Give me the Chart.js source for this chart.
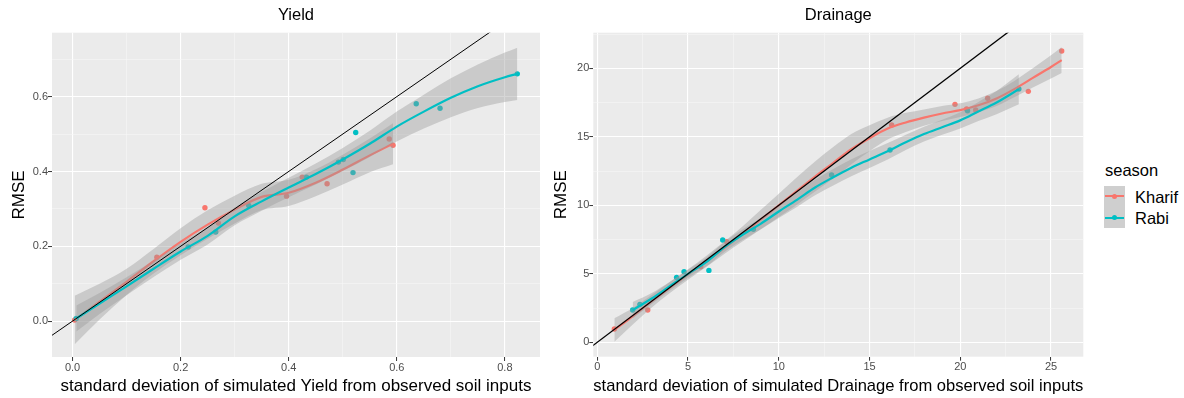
<!DOCTYPE html>
<html><head><meta charset="utf-8">
<script src="https://cdn.jsdelivr.net/npm/chart.js@4.4.1/dist/chart.umd.min.js"></script>
<style>
html,body{margin:0;padding:0;background:#fff;width:1184px;height:398px;overflow:hidden;font-family:'Liberation Sans',Arial,sans-serif;}
canvas{position:absolute;top:0;}
#c1{left:0px} #c2{left:545px}
.lg{position:absolute;color:#000;font-size:16.5px;line-height:20px;white-space:nowrap}
.key{position:absolute;left:1104px;width:21px;height:21.3px;background:#cfcfcf}
.key .ln{position:absolute;left:1px;right:1px;top:9.6px;height:2.1px}
.key .pt{position:absolute;left:8px;top:8px;width:5.2px;height:5.2px;border-radius:50%}
</style></head>
<body>
<canvas id="c1" width="545" height="398"></canvas>
<canvas id="c2" width="545" height="398"></canvas>
<div class="lg" style="left:1105px;top:160px">season</div>
<div class="key" style="top:185.7px"><div class="ln" style="background:#F8766D"></div><div class="pt" style="background:#F8766D"></div></div>
<div class="key" style="top:207px"><div class="ln" style="background:#00BFC4"></div><div class="pt" style="background:#00BFC4"></div></div>
<div class="lg" style="left:1135px;top:186.7px">Kharif</div>
<div class="lg" style="left:1135px;top:208.3px">Rabi</div>
<script>
// ---------- Yield panel data ----------
const yieldKharifX = [0.004, 0.156, 0.245, 0.270, 0.396, 0.425, 0.471, 0.586, 0.593];
const yieldKharifY = [0.003, 0.171, 0.303, 0.262, 0.334, 0.385, 0.367, 0.487, 0.470];
const yieldRabiX = [0.007, 0.214, 0.265, 0.326, 0.433, 0.492, 0.501, 0.519, 0.524, 0.636, 0.680, 0.823];
const yieldRabiY = [0.007, 0.198, 0.238, 0.309, 0.385, 0.425, 0.432, 0.397, 0.504, 0.581, 0.569, 0.661];
// loess fits (x, fitted y, half width of the grey band)
const yieldKharifFitX = [0.004, 0.05, 0.10, 0.15, 0.20, 0.25, 0.30, 0.35, 0.40, 0.45, 0.50, 0.55, 0.593];
const yieldKharifFitY = [0.003, 0.052, 0.105, 0.160, 0.212, 0.258, 0.298, 0.332, 0.343, 0.370, 0.405, 0.443, 0.474];
const yieldKharifSE   = [0.065, 0.048, 0.035, 0.033, 0.036, 0.038, 0.037, 0.035, 0.035, 0.036, 0.040, 0.045, 0.055];
const yieldRabiFitX = [0.007, 0.05, 0.10, 0.15, 0.20, 0.25, 0.30, 0.35, 0.40, 0.45, 0.50, 0.55, 0.60, 0.65, 0.70, 0.75, 0.80, 0.823];
const yieldRabiFitY = [0.007, 0.047, 0.093, 0.140, 0.186, 0.228, 0.280, 0.320, 0.357, 0.393, 0.432, 0.474, 0.520, 0.560, 0.597, 0.628, 0.652, 0.661];
const yieldRabiSE   = [0.035, 0.028, 0.024, 0.022, 0.022, 0.023, 0.024, 0.025, 0.026, 0.028, 0.031, 0.035, 0.040, 0.045, 0.052, 0.058, 0.066, 0.070];
const yieldIdentity = [-1, 2];
const yieldXLimits = [-0.038, 0.865];
const yieldYLimits = [-0.096, 0.771];
const yieldXTicks = [0, 0.2, 0.4, 0.6, 0.8];
const yieldXLabels = ['0.0', '0.2', '0.4', '0.6', '0.8'];
const yieldXMinor = [0.1, 0.3, 0.5, 0.7];
const yieldYTicks = [0, 0.2, 0.4, 0.6];
const yieldYLabels = ['0.0', '0.2', '0.4', '0.6'];
const yieldYMinor = [0.1, 0.3, 0.5, 0.7];

// ---------- Drainage panel data ----------
const drainKharifX = [0.94, 2.78, 5.70, 7.13, 16.22, 19.71, 20.35, 20.85, 21.51, 23.75, 25.59];
const drainKharifY = [0.97, 2.36, 5.52, 7.34, 15.86, 17.37, 17.03, 16.96, 17.81, 18.32, 21.26];
const drainRabiX = [1.95, 2.35, 4.37, 4.78, 6.15, 6.91, 8.60, 12.91, 16.13, 20.40, 23.23];
const drainRabiY = [2.36, 2.77, 4.74, 5.15, 5.25, 7.47, 8.25, 12.21, 14.04, 16.90, 18.49];
const drainKharifFitX = [0.94, 2, 3, 4, 5, 6, 7, 8, 9, 10, 11, 12, 13, 14, 15, 16, 17, 18, 19, 20, 21, 22, 23, 24, 25, 25.59];
const drainKharifFitY = [0.90, 1.95, 3.00, 4.00, 4.95, 5.90, 6.90, 7.90, 8.95, 10.0, 11.05, 12.10, 13.10, 14.10, 14.90, 15.60, 16.05, 16.40, 16.70, 16.95, 17.30, 17.80, 18.50, 19.30, 20.10, 20.60];
const drainKharifSE   = [0.85, 0.60, 0.45, 0.40, 0.38, 0.40, 0.45, 0.55, 0.70, 0.85, 1.00, 1.10, 1.15, 1.10, 0.95, 0.80, 0.70, 0.60, 0.55, 0.50, 0.50, 0.55, 0.60, 0.70, 0.85, 0.95];
const drainRabiFitX = [1.95, 3, 4, 5, 6, 7, 8, 9, 10, 11, 12, 13, 14, 15, 16, 17, 18, 19, 20, 21, 22, 23.23];
const drainRabiFitY = [2.35, 3.20, 4.10, 5.00, 5.85, 6.95, 7.85, 8.65, 9.55, 10.40, 11.30, 12.05, 12.75, 13.35, 13.95, 14.60, 15.20, 15.70, 16.20, 16.85, 17.50, 18.47];
const drainRabiSE   = [0.60, 0.40, 0.32, 0.30, 0.32, 0.35, 0.38, 0.42, 0.48, 0.52, 0.56, 0.60, 0.62, 0.62, 0.60, 0.56, 0.54, 0.55, 0.60, 0.70, 0.85, 1.10];
const drainIdentity = [-5, 40];
const drainXLimits = [-0.22, 26.78];
const drainYLimits = [-1.05, 22.6];
const drainXTicks = [0, 5, 10, 15, 20, 25];
const drainXLabels = ['0', '5', '10', '15', '20', '25'];
const drainXMinor = [2.5, 7.5, 12.5, 17.5, 22.5];
const drainYTicks = [0, 5, 10, 15, 20];
const drainYLabels = ['0', '5', '10', '15', '20'];
const drainYMinor = [2.5, 7.5, 12.5, 17.5, 22.5];

const KHARIF = '#F8766D', RABI = '#00BFC4', BAND = 'rgba(153,153,153,0.4)';
const FONT = 'Liberation Sans';

function pts(xs, ys) { return xs.map((x, i) => ({x: x, y: ys[i]})); }
function edge(xs, ys, se, s) { return xs.map((x, i) => ({x: x, y: ys[i] + s * se[i]})); }
function idLine(r) { return r.map(v => ({x: v, y: v})); }

const panelBg = {
  id: 'panelBg',
  beforeDraw(chart) {
    const a = chart.chartArea, ctx = chart.ctx;
    ctx.save();
    ctx.fillStyle = '#EBEBEB';
    ctx.fillRect(a.left, a.top, a.right - a.left, a.bottom - a.top);
    ctx.restore();
  }
};

function axis(lim, major, labels, minor, title, titlePad, fit) {
  const isMajor = v => major.some(m => Math.abs(m - v) < 1e-9);
  return {
    type: 'linear', min: lim[0], max: lim[1],
    afterBuildTicks: s => { s.ticks = major.concat(minor).sort((a, b) => a - b).map(v => ({value: v})); },
    afterFit: fit,
    ticks: {
      autoSkip: false, maxRotation: 0, minRotation: 0, padding: 0,
      color: '#4D4D4D', font: {family: FONT, size: 11},
      callback: v => { const i = major.findIndex(m => Math.abs(m - v) < 1e-9); return i >= 0 ? labels[i] : ''; }
    },
    grid: {
      color: c => (c.tick && isMajor(c.tick.value)) ? '#FFFFFF' : '#F7F7F7',
      lineWidth: c => (c.tick && isMajor(c.tick.value)) ? 1.1 : 0.6,
      tickColor: c => (c.tick && isMajor(c.tick.value)) ? '#333333' : 'rgba(0,0,0,0)',
      tickLength: 4, tickWidth: 1, drawTicks: true
    },
    border: {display: false},
    title: {display: true, text: title, color: '#000', font: {family: FONT, size: 17, lineHeight: 1.2}, padding: titlePad}
  };
}

function panel(id, o) {
  const lineOpts = {showLine: true, pointRadius: 0, borderWidth: 2.2, cubicInterpolationMode: 'monotone', fill: false};
  const edgeOpts = {showLine: true, pointRadius: 0, borderWidth: 0, borderColor: 'rgba(0,0,0,0)', cubicInterpolationMode: 'monotone'};
  return new Chart(document.getElementById(id), {
    type: 'scatter',
    data: {
      datasets: [
        {data: idLine(o.identity), showLine: true, pointRadius: 0, borderColor: '#000', borderWidth: o.idW, fill: false, clip: 0, order: 0},
        Object.assign({data: pts(o.rFitX, o.rFitY), borderColor: RABI, order: 1}, lineOpts),
        Object.assign({data: edge(o.rFitX, o.rFitY, o.rSE, 1), fill: false, order: 2}, edgeOpts),
        Object.assign({data: edge(o.rFitX, o.rFitY, o.rSE, -1), fill: '-1', backgroundColor: BAND, order: 2}, edgeOpts),
        Object.assign({data: pts(o.kFitX, o.kFitY), borderColor: KHARIF, order: 3}, lineOpts),
        Object.assign({data: edge(o.kFitX, o.kFitY, o.kSE, 1), fill: false, order: 4}, edgeOpts),
        Object.assign({data: edge(o.kFitX, o.kFitY, o.kSE, -1), fill: '-1', backgroundColor: BAND, order: 4}, edgeOpts),
        {data: pts(o.rX, o.rY), pointRadius: 2.7, pointBorderWidth: 0, pointBackgroundColor: RABI, backgroundColor: RABI, order: 5},
        {data: pts(o.kX, o.kY), pointRadius: 2.7, pointBorderWidth: 0, pointBackgroundColor: KHARIF, backgroundColor: KHARIF, order: 6}
      ]
    },
    options: {
      responsive: false, animation: false, devicePixelRatio: 1, events: [],
      layout: {padding: {left: 0, right: o.padRight, top: 0, bottom: 0}},
      plugins: {
        legend: {display: false}, tooltip: {enabled: false},
        title: {display: true, text: o.title, fullSize: false, color: '#000',
                font: {family: FONT, size: 16.5, weight: 'normal', lineHeight: 1.2}, padding: {top: 6, bottom: 6.9}}
      },
      scales: {
        x: axis(o.xLim, o.xTicks, o.xLabels, o.xMinor, o.xTitle, {top: 0, bottom: 1.1}, s => { s.height = o.xH; }),
        y: axis(o.yLim, o.yTicks, o.yLabels, o.yMinor, 'RMSE', {top: o.yTitlePad, bottom: 0}, s => { s.width = o.yW; })
      }
    },
    plugins: [panelBg]
  });
}

panel('c1', {
  title: 'Yield', identity: yieldIdentity, idW: 1,
  kX: yieldKharifX, kY: yieldKharifY, rX: yieldRabiX, rY: yieldRabiY,
  kFitX: yieldKharifFitX, kFitY: yieldKharifFitY, kSE: yieldKharifSE,
  rFitX: yieldRabiFitX, rFitY: yieldRabiFitY, rSE: yieldRabiSE,
  xLim: yieldXLimits, yLim: yieldYLimits,
  xTicks: yieldXTicks, xLabels: yieldXLabels, xMinor: yieldXMinor,
  yTicks: yieldYTicks, yLabels: yieldYLabels, yMinor: yieldYMinor,
  xTitle: 'standard deviation of simulated Yield from observed soil inputs',
  padRight: 5, xH: 41, yW: 52, yTitlePad: 9.4
});
panel('c2', {
  title: 'Drainage', identity: drainIdentity, idW: 1.3,
  kX: drainKharifX, kY: drainKharifY, rX: drainRabiX, rY: drainRabiY,
  kFitX: drainKharifFitX, kFitY: drainKharifFitY, kSE: drainKharifSE,
  rFitX: drainRabiFitX, rFitY: drainRabiFitY, rSE: drainRabiSE,
  xLim: drainXLimits, yLim: drainYLimits,
  xTicks: drainXTicks, xLabels: drainXLabels, xMinor: drainXMinor,
  yTicks: drainYTicks, yLabels: drainYLabels, yMinor: drainYMinor,
  xTitle: 'standard deviation of simulated Drainage from observed soil inputs',
  padRight: 6.7, xH: 41.3, yW: 48.3, yTitlePad: 6.5
});
</script>
</body></html>
